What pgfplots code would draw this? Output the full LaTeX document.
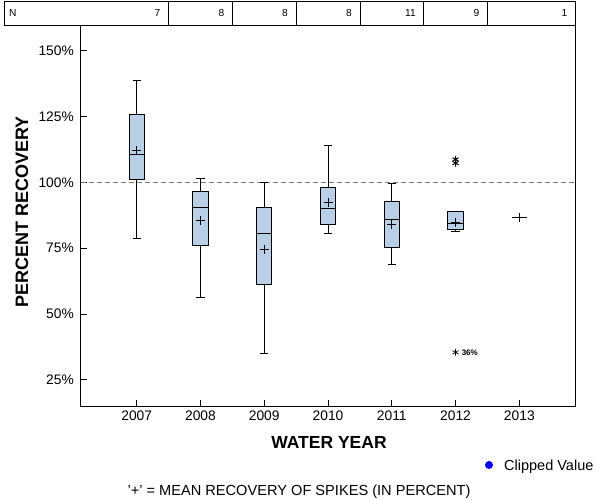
\documentclass[border=0pt]{standalone}
\usepackage{pgfplots}
\pgfplotsset{compat=1.18}
\usepackage{fontspec}
\setmainfont{Liberation Sans}
\definecolor{boxfill}{RGB}{185,207,230}
\definecolor{refgray}{RGB}{128,128,128}
\begin{document}
\begin{tikzpicture}
\useasboundingbox (0pt,0pt) rectangle (600pt,500pt);
\begin{axis}[
  at={(80.7pt,94pt)}, anchor=south west, scale only axis,
  width=494.3pt, height=381pt,
  xmin=-0.878, xmax=6.873, ymin=15.0, ymax=159.8,
  xtick={0,1,2,3,4,5,6},
  xticklabels={2007,2008,2009,2010,2011,2012,2013},
  ytick={25,50,75,100,125,150},
  yticklabels={25\%,50\%,75\%,100\%,125\%,150\%},
  xtick pos=lower, ytick pos=left,
  tick align=inside, major tick length=6pt,
  tick style={black, line width=0.8pt},
  axis line style={line width=0.8pt},
  ticklabel style={font=\fontsize{13.8}{16}\selectfont},
  xticklabel style={anchor=base, inner sep=0pt, yshift=-14.7pt},
  yticklabel style={anchor=east, inner sep=0pt, xshift=-6.7pt},
  /pgf/number format/assume math mode=true,
  clip=false,
  unbounded coords=jump,
]
\addplot[refgray, line width=0.9pt, dash pattern=on 5pt off 3pt] coordinates {(-0.878,100) (6.873,100)};

% whiskers and caps
\addplot[black, line width=0.9pt] coordinates {
 (0,125.9) (0,138.6) (0,nan) (-0.065,138.6) (0.065,138.6) (0,nan)
 (0,101.2) (0,78.8)  (0,nan) (-0.065,78.8)  (0.065,78.8)  (0,nan)
 (1,96.5) (1,101.5) (1,nan) (0.935,101.5) (1.065,101.5) (1,nan)
 (1,76.1) (1,56.3)  (1,nan) (0.935,56.3)  (1.065,56.3)  (1,nan)
 (2,90.6) (2,100.0) (2,nan) (1.935,100.0) (2.065,100.0) (2,nan)
 (2,61.2) (2,34.8)  (2,nan) (1.935,34.8)  (2.065,34.8)  (2,nan)
 (3,98.1) (3,113.9) (3,nan) (2.935,113.9) (3.065,113.9) (3,nan)
 (3,84.1) (3,80.4)  (3,nan) (2.935,80.4)  (3.065,80.4)  (3,nan)
 (4,92.85) (4,99.7) (4,nan) (3.935,99.7)  (4.065,99.7)  (4,nan)
 (4,75.3) (4,68.9)  (4,nan) (3.935,68.9)  (4.065,68.9)  (4,nan)
 (5,82.2) (5,81.4)  (5,nan) (4.935,81.4)  (5.065,81.4)
};

% boxes (Q1 to Q3)
\addplot[draw=black, fill=boxfill, line width=0.9pt] coordinates {(-0.12,101.2) (0.12,101.2) (0.12,125.9) (-0.12,125.9)} -- cycle;
\addplot[draw=black, fill=boxfill, line width=0.9pt] coordinates {(0.88,76.1) (1.12,76.1) (1.12,96.5) (0.88,96.5)} -- cycle;
\addplot[draw=black, fill=boxfill, line width=0.9pt] coordinates {(1.88,61.2) (2.12,61.2) (2.12,90.6) (1.88,90.6)} -- cycle;
\addplot[draw=black, fill=boxfill, line width=0.9pt] coordinates {(2.88,84.1) (3.12,84.1) (3.12,98.1) (2.88,98.1)} -- cycle;
\addplot[draw=black, fill=boxfill, line width=0.9pt] coordinates {(3.88,75.3) (4.12,75.3) (4.12,92.85) (3.88,92.85)} -- cycle;
\addplot[draw=black, fill=boxfill, line width=0.9pt] coordinates {(4.88,82.2) (5.12,82.2) (5.12,89.0) (4.88,89.0)} -- cycle;

% medians
\addplot[black, line width=0.9pt] coordinates {
 (-0.12,110.7) (0.12,110.7) (0,nan)
 (0.88,90.6) (1.12,90.6) (1,nan)
 (1.88,80.4) (2.12,80.4) (2,nan)
 (2.88,90.1) (3.12,90.1) (3,nan)
 (3.88,85.9) (4.12,85.9) (4,nan)
 (4.88,84.3) (5.12,84.3) (5,nan)
 (5.88,86.5) (6.12,86.5)
};

% means
\addplot[only marks, mark=+, mark size=4.5pt, black, line width=0.9pt] coordinates {
  (0,112.2) (1,85.4) (2,74.6) (3,92.2) (4,83.9) (5,84.6) (6,86.5)};
% outliers
\addplot[only marks, mark=asterisk, mark size=3.6pt, black, line width=0.9pt] coordinates {(5,108.7) (5,107.3)};
% clipped value
\addplot[only marks, mark=asterisk, mark size=3.4pt, black, line width=0.7pt] coordinates {(5,35.4)};
\node[anchor=west, font=\fontsize{8}{9}\selectfont\bfseries, inner sep=0pt] at (axis cs:5,35.4) [xshift=6pt] {36\%};
\end{axis}

% N table
\draw[line width=0.8pt] (4pt,475pt) rectangle (575pt,499pt);
\foreach \xx in {168.6,232.4,296.1,359.9,423.7,487.4} \draw[line width=0.8pt] (\xx pt,475pt) -- (\xx pt,499pt);
\begin{scope}[every node/.style={font=\fontsize{10.2}{12}\selectfont, inner sep=0pt}]
\node[anchor=west] at (9pt,487pt) {N};
\node[anchor=east] at (160.6pt,487pt) {7};
\node[anchor=east] at (224.4pt,487pt) {8};
\node[anchor=east] at (288pt,487pt) {8};
\node[anchor=east] at (352pt,487pt) {8};
\node[anchor=east] at (416pt,487pt) {11};
\node[anchor=east] at (479.4pt,487pt) {9};
\node[anchor=east] at (567.5pt,487pt) {1};
\end{scope}

% axis titles
\node[rotate=90, font=\fontsize{18}{20}\selectfont\bfseries] at (22pt,288pt) {PERCENT RECOVERY};
\node[font=\fontsize{17.5}{20}\selectfont\bfseries] at (329pt,58pt) {WATER YEAR};

% legend
\fill[blue] (489pt,35pt) circle (4pt);
\node[anchor=west, font=\fontsize{14.5}{16}\selectfont, inner sep=0pt] at (504pt,33pt) {Clipped Value};

% footnote
\node[font=\fontsize{14.6}{16}\selectfont] at (299pt,8pt) {'+' = MEAN RECOVERY OF SPIKES (IN PERCENT)};
\end{tikzpicture}
\end{document}
